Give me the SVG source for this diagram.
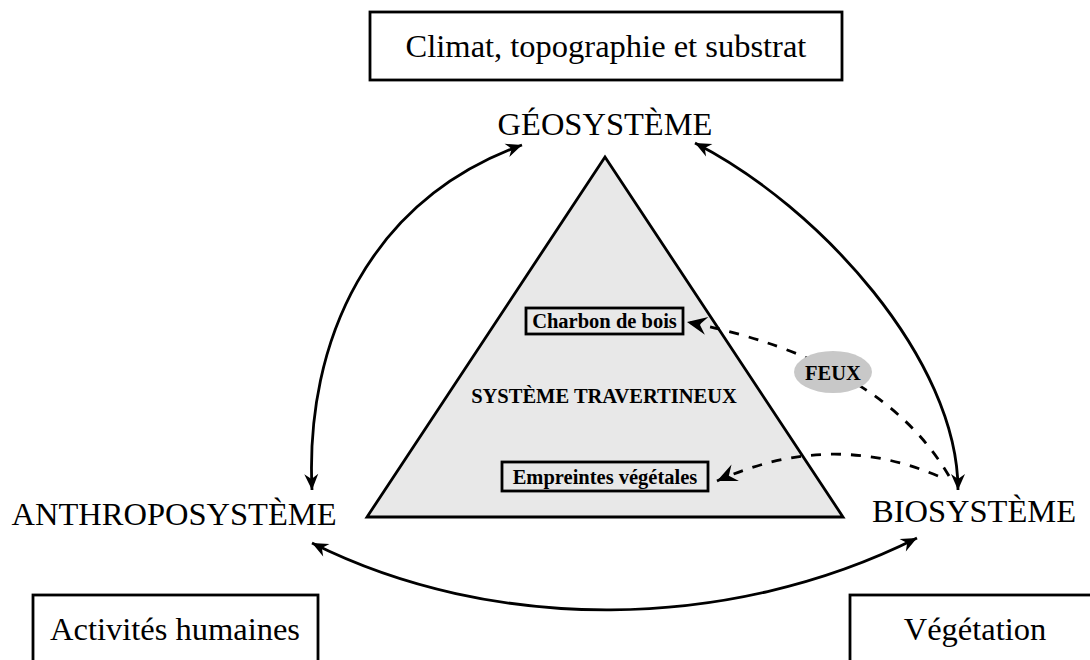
<svg xmlns="http://www.w3.org/2000/svg" width="1090" height="660" viewBox="0 0 1090 660">
  <style>
    .big { font-family: "Liberation Serif", "Times New Roman", serif; font-size: 32.5px; fill: #000; }
    .bold { font-family: "Liberation Serif", "Times New Roman", serif; font-size: 20.5px; font-weight: bold; fill: #000; }
    .box { fill: #fff; stroke: #000; stroke-width: 2.8; }
    .sbox { fill: none; stroke: #000; stroke-width: 2.8; }
    .arc { fill: none; stroke: #000; stroke-width: 2.8; }
    .dash { fill: none; stroke: #000; stroke-width: 2.8; stroke-dasharray: 10 10; }
  </style>
  <defs>
    <marker id="ah" viewBox="-18 -9 20 18" markerWidth="20" markerHeight="18" refX="0" refY="0" orient="auto-start-reverse" markerUnits="userSpaceOnUse">
      <path d="M0,0 L-16,-7 L-11,0 L-16,7 Z" fill="#000"/>
    </marker>
    <marker id="ahd" viewBox="-22 -11 24 22" markerWidth="24" markerHeight="22" refX="0" refY="0" orient="auto" markerUnits="userSpaceOnUse">
      <path d="M0,0 L-20,-9 L-13,0 L-20,9 Z" fill="#000"/>
    </marker>
  </defs>

  <g id="triangle">
    <polygon points="605,157 367,517 843,517" fill="#e8e8e8" stroke="#000" stroke-width="2.8" stroke-linejoin="miter"/>
    <text class="bold" x="604" y="403" text-anchor="middle">SYSTÈME TRAVERTINEUX</text>
  </g>

  <g id="connectors">
    <path class="arc" d="M522,145 C370,200 305,340 312,490" marker-start="url(#ah)" marker-end="url(#ah)"/>
    <path class="arc" d="M695,143 C820,207 958,360 958,490" marker-start="url(#ah)" marker-end="url(#ah)"/>
    <path class="arc" d="M312,543 C492,633 727,633 917,538" marker-start="url(#ah)" marker-end="url(#ah)"/>
    <path class="dash" d="M949,476 Q881,360 687,322" marker-end="url(#ahd)"/>
    <path class="dash" d="M938,476 Q830,430 717,481" marker-end="url(#ahd)"/>
  </g>

  <g id="top-box">
    <rect class="box" x="370" y="12" width="472" height="68"/>
    <text class="big" x="606" y="57" text-anchor="middle">Climat, topographie et substrat</text>
  </g>

  <g id="geosysteme">
    <text class="big" x="605" y="135" text-anchor="middle">GÉOSYSTÈME</text>
  </g>

  <g id="anthroposysteme">
    <text class="big" x="174" y="525" text-anchor="middle">ANTHROPOSYSTÈME</text>
  </g>

  <g id="biosysteme">
    <text class="big" x="974" y="522" text-anchor="middle">BIOSYSTÈME</text>
  </g>

  <g id="activites">
    <rect class="box" x="33" y="595" width="285" height="80"/>
    <text class="big" x="175" y="640" text-anchor="middle">Activités humaines</text>
  </g>

  <g id="vegetation">
    <rect class="box" x="850" y="595" width="260" height="80"/>
    <text class="big" x="975" y="640" text-anchor="middle">Végétation</text>
  </g>

  <g id="charbon">
    <rect class="sbox" x="526" y="308" width="157" height="26"/>
    <text class="bold" x="604.5" y="328" text-anchor="middle">Charbon de bois</text>
  </g>

  <g id="empreintes">
    <rect class="sbox" x="502" y="462" width="206" height="29"/>
    <text class="bold" x="605" y="484" text-anchor="middle">Empreintes végétales</text>
  </g>

  <g id="feux">
    <ellipse cx="833" cy="372" rx="39" ry="21" fill="#c8c8c8"/>
    <text class="bold" x="833" y="380" text-anchor="middle">FEUX</text>
  </g>
</svg>
